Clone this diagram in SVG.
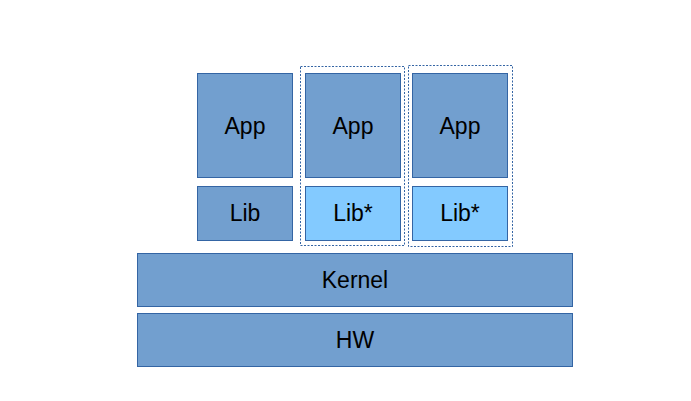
<svg xmlns="http://www.w3.org/2000/svg" width="691" height="401" viewBox="0 0 691 401">
<style>
.b{fill:#729fcf;stroke:#3465a4;stroke-width:1}
.l{fill:#83caff;stroke:#3465a4;stroke-width:1}
.d{fill:none;stroke:#3465a4;stroke-width:1;stroke-dasharray:2 1.5}
text{font-family:"Liberation Sans",Arial,sans-serif;font-size:23px;fill:#000;text-anchor:middle;dominant-baseline:central}
</style>
<rect width="691" height="401" fill="#fff"/>
<g id="group2"><rect class="d" x="300.5" y="66.5" width="104" height="179"/></g>
<g id="group3"><rect class="d" x="408.5" y="65.5" width="104" height="181"/></g>
<g id="app1"><rect class="b" x="197.5" y="73.5" width="95" height="104"/><text x="245" y="126">App</text></g>
<g id="app2"><rect class="b" x="305.5" y="73.5" width="95" height="104"/><text x="353" y="126">App</text></g>
<g id="app3"><rect class="b" x="412.5" y="73.5" width="95" height="104"/><text x="460" y="126">App</text></g>
<g id="lib1"><rect class="b" x="197.5" y="186.5" width="95" height="54"/><text x="245" y="213">Lib</text></g>
<g id="lib2"><rect class="l" x="305.5" y="186.5" width="95" height="54"/><text x="353" y="213">Lib*</text></g>
<g id="lib3"><rect class="l" x="412.5" y="186.5" width="95" height="54"/><text x="460" y="213">Lib*</text></g>
<g id="kernel"><rect class="b" x="137.5" y="253.5" width="435" height="53"/><text x="355" y="280">Kernel</text></g>
<g id="hw"><rect class="b" x="137.5" y="313.5" width="435" height="53"/><text x="355" y="340">HW</text></g>
<g id="connectors"></g>
</svg>
